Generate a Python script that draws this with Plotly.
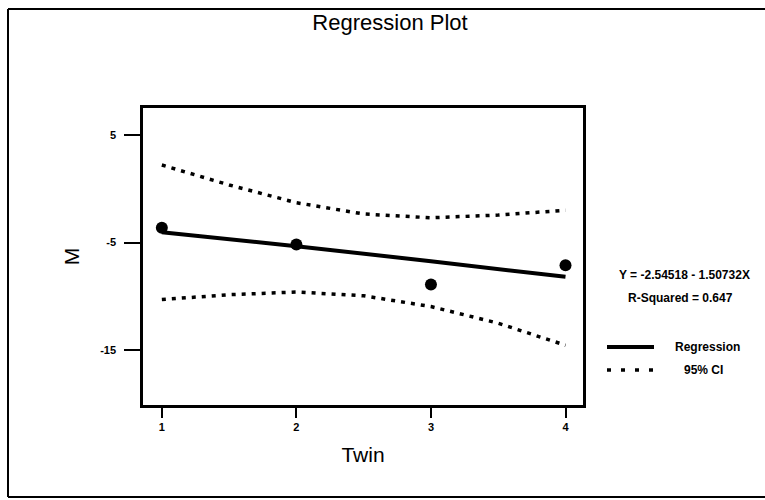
import plotly.graph_objects as go

# Observed data
twin = [1, 2, 3, 4]
m_values = [-3.63, -5.19, -8.91, -7.11]

# Fitted regression line (as drawn)
fit_x = [1, 2, 3, 4]
fit_y = [-4.04, -5.34, -6.74, -8.19]

# 95% confidence interval bands
ci_x = [1, 1.5, 2, 2.5, 3, 3.5, 4]
ci_upper = [2.2, 0.35, -1.3, -2.35, -2.7, -2.45, -2.0]
ci_lower = [-10.3, -9.85, -9.6, -9.95, -10.95, -12.5, -14.55]

x_ticks = [1, 2, 3, 4]
y_ticks = [5, -5, -15]

equation_text = "Y = -2.54518 - 1.50732X"
rsq_text = "R-Squared = 0.647"

FONT = "Liberation Sans, Arial, sans-serif"
W, H = 765, 500
L, T = 143, 108
PW, PH = 440, 297
R, B = W - L - PW, H - T - PH


def px(xr):
    return (xr - L) / PW


def py(yr):
    return (T + PH - yr) / PH


fig = go.Figure()

ci_style = dict(color="black", width=3.5, dash="4px,6px")
fig.add_trace(go.Scatter(x=ci_x, y=ci_upper, mode="lines", line=ci_style,
                         showlegend=False, hoverinfo="skip"))
fig.add_trace(go.Scatter(x=ci_x, y=ci_lower, mode="lines", line=ci_style,
                         showlegend=False, hoverinfo="skip"))
fig.add_trace(go.Scatter(x=fit_x, y=fit_y, mode="lines",
                         line=dict(color="black", width=4), showlegend=False))
fig.add_trace(go.Scatter(x=twin, y=m_values, mode="markers",
                         marker=dict(color="black", size=12), showlegend=False))

# outer frame (left, top, bottom edges; right edge lies outside the image)
frame = dict(color="black", width=2)
fig.add_shape(type="line", xref="paper", yref="paper",
              x0=px(8), x1=px(8), y0=py(497), y1=py(9), line=frame)
fig.add_shape(type="line", xref="paper", yref="paper",
              x0=px(8), x1=px(800), y0=py(9), y1=py(9), line=frame)
fig.add_shape(type="line", xref="paper", yref="paper",
              x0=px(8), x1=px(800), y0=py(497), y1=py(497), line=frame)

# legend samples
fig.add_shape(type="line", xref="paper", yref="paper",
              x0=px(607), x1=px(654), y0=py(347), y1=py(347),
              line=dict(color="black", width=4))
fig.add_shape(type="line", xref="paper", yref="paper",
              x0=px(607), x1=px(658), y0=py(370), y1=py(370),
              line=dict(color="black", width=3.5, dash="4px,10px"))

ann_font = dict(family=FONT, size=12, color="black")


def bold(s):
    return f"<b>{s}</b>"


def label(xr, yr, text):
    fig.add_annotation(x=px(xr), y=py(yr), xref="paper", yref="paper",
                       xanchor="center", yanchor="middle",
                       text=bold(text), showarrow=False, font=ann_font)


label(684, 275, equation_text)
label(680, 298, rsq_text)
label(707, 347, "Regression")
label(703, 370, "95% CI")

fig.update_layout(
    width=W, height=H,
    margin=dict(l=L, r=R, t=T, b=B),
    paper_bgcolor="white", plot_bgcolor="white",
    font=dict(family=FONT, color="black"),
    title=dict(text="Regression Plot", x=390 / W, xanchor="center",
               y=1 - 22 / H, yanchor="middle",
               font=dict(family=FONT, size=22, color="black")),
    showlegend=False,
)
fig.update_xaxes(range=[0.86, 4.13], tickvals=x_ticks,
                 ticktext=[bold(v) for v in x_ticks],
                 showgrid=False, zeroline=False,
                 showline=True, linecolor="black", linewidth=2.5, mirror=True,
                 ticks="outside", ticklen=10, tickwidth=2, tickcolor="black",
                 ticklabelstandoff=0,
                 tickfont=dict(family=FONT, size=11, color="black"),
                 title=dict(text="Twin", standoff=16,
                            font=dict(family=FONT, size=21, color="black")))
fig.update_yaxes(range=[-20.1, 7.5], tickvals=y_ticks,
                 ticktext=[bold(v) for v in y_ticks],
                 showgrid=False, zeroline=False,
                 showline=True, linecolor="black", linewidth=2.5, mirror=True,
                 ticks="outside", ticklen=16, tickwidth=2, tickcolor="black",
                 ticklabelstandoff=6,
                 tickfont=dict(family=FONT, size=11, color="black"),
                 title=dict(text="M", standoff=15,
                            font=dict(family=FONT, size=21, color="black")))

# place the figure flush with the window corner, without scrollbars
page_css = ("document.body.style.margin='0';"
            "document.body.style.overflow='hidden';")
fig.write_html("out.html", post_script=page_css,
               config={"displayModeBar": False})
